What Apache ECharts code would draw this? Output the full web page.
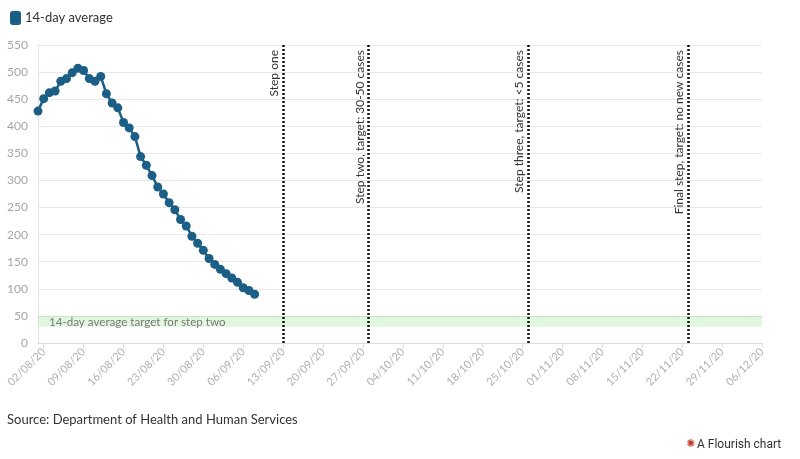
<!DOCTYPE html>
<html>
<head>
<meta charset="utf-8">
<script src="https://cdn.jsdelivr.net/npm/echarts@6/dist/echarts.min.js"></script>
<style>
html,body{margin:0;padding:0;background:#fff;}
#chart{width:800px;height:459px;}
</style>
</head>
<body>
<div id="chart"></div>
<script>
// Day index 0 = 01/08/20
const seriesName = '14-day average';
const values = [428, 451, 462, 465, 483, 488, 499, 507, 503, 488,
  483, 492, 460, 443, 434, 407, 397, 381, 344, 328,
  309, 288, 275, 259, 246, 228, 216, 197, 184, 171,
  156, 145, 136, 128, 120, 112, 102, 97, 90];
const tickLabels = ['02/08/20','09/08/20','16/08/20','23/08/20','30/08/20','06/09/20',
  '13/09/20','20/09/20','27/09/20','04/10/20','11/10/20','18/10/20','25/10/20',
  '01/11/20','08/11/20','15/11/20','22/11/20','29/11/20','06/12/20'];
const tickDays = [1, 8, 15, 22, 29, 36, 43, 50, 57, 64, 71, 78, 85, 92, 99, 106, 113, 120, 127];
const stepDays = [43, 58, 86, 114];
const stepLabels = ['Step one', 'Step two, target: 30-50 cases', 'Step three, target: <5 cases', 'Final step, target: no new cases'];
const bandRange = [30, 50];
const bandLabel = '14-day average target for step two';
const sourceText = 'Source: Department of Health and Human Services';

const FONT = 'Lato, "Source Sans Pro", sans-serif';
const chart = echarts.init(document.getElementById('chart'), null, {renderer: 'canvas'});
const lineData = values.map((v, i) => [i, v]);
const labelMap = {};
tickDays.forEach((d, i) => { labelMap[d] = tickLabels[i]; });

chart.setOption({
  animation: false,
  textStyle: {fontFamily: FONT},
  legend: {
    left: 5, top: 6,
    icon: 'roundRect',
    itemWidth: 11, itemHeight: 14, itemGap: 4,
    textStyle: {fontSize: 13, color: '#333', fontFamily: FONT, padding: [0, 0, 0, -1]},
    data: [seriesName]
  },
  grid: {left: 38, right: 38, top: 45, bottom: 116},
  xAxis: {
    type: 'value', min: 0, max: 127,
    splitLine: {show: false},
    axisLine: {lineStyle: {color: '#dcdcdc'}},
    axisTick: {show: true, length: 5, lineStyle: {color: '#dcdcdc'}, customValues: tickDays},
    axisLabel: {
      customValues: tickDays,
      rotate: 45, color: '#b0b0b0', fontSize: 11, fontFamily: FONT, margin: 7,
      formatter: v => labelMap[v] || ''
    }
  },
  yAxis: {
    type: 'value', min: 0, max: 550, interval: 50,
    axisLine: {show: true, lineStyle: {color: '#e3e3e3'}},
    axisTick: {show: false},
    axisLabel: {color: '#a6a6a6', fontSize: 12, fontFamily: FONT, margin: 10},
    splitLine: {lineStyle: {color: '#e8e8e8'}}
  },
  series: [
    {
      name: 'band', type: 'line', data: [], silent: true,
      markArea: {
        silent: true,
        itemStyle: {color: 'rgba(200,238,196,0.55)'},
        label: {show: true, position: 'insideLeft', color: '#7a7a7a', fontSize: 11.6, fontFamily: FONT, offset: [6, 1]},
        data: [[{yAxis: bandRange[0], name: bandLabel}, {yAxis: bandRange[1]}]]
      },
      markLine: {
        silent: true, symbol: 'none', label: {show: false},
        lineStyle: {color: '#c5e6c0', type: 'solid', width: 1},
        data: [{yAxis: bandRange[1]}]
      }
    },
    {
      name: seriesName, type: 'line', data: lineData,
      color: '#1b5e86',
      symbol: 'circle', symbolSize: 9,
      lineStyle: {width: 2.5, color: '#1b5e86'},
      itemStyle: {color: '#1b5e86'},
      z: 3,
      markLine: {
        silent: true, symbol: 'none',
        lineStyle: {color: '#111', type: [2, 2], width: 2.5},
        label: {show: true, position: 'insideEndTop', color: '#333', fontSize: 12, fontFamily: FONT, distance: [5, 3],
          formatter: p => p.name},
        data: stepDays.map((d, i) => ({xAxis: d, name: stepLabels[i]}))
      }
    }
  ],
  graphic: [
    {type: 'text', left: 7, top: 413, style: {text: sourceText, fontSize: 13, fill: '#333', fontFamily: FONT}},
    {type: 'text', left: 686, top: 439, style: {text: '✺', fontSize: 11, fill: '#c0392b', fontFamily: 'DejaVu Sans'}},
    {type: 'text', left: 697, top: 439, style: {text: 'A Flourish chart', fontSize: 12, fill: '#333', fontFamily: 'Roboto, sans-serif'}}
  ]
});
</script>
</body>
</html>
